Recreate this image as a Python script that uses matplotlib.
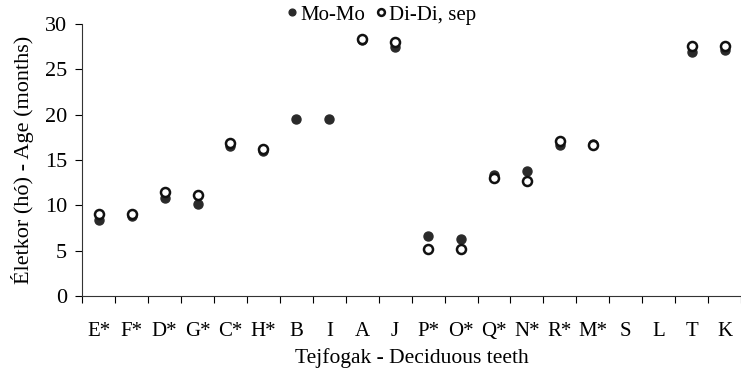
import matplotlib
matplotlib.use("Agg")
import matplotlib.pyplot as plt
import numpy as np

plt.rcParams['font.family'] = ['Liberation Serif', 'DejaVu Serif']

teeth = ['E*', 'F*', 'D*', 'G*', 'C*', 'H*', 'B', 'I', 'A', 'J',
         'P*', 'O*', 'Q*', 'N*', 'R*', 'M*', 'S', 'L', 'T', 'K']
mo_mo = [8.4, 8.8, 10.8, 10.2, 16.5, 16.0, 19.5, 19.5, 28.2, 27.5,
         6.6, 6.3, 13.4, 13.8, 16.7, 16.8, np.nan, np.nan, 26.9, 27.1]
di_di = [9.1, 9.0, 11.5, 11.1, 16.9, 16.2, np.nan, np.nan, 28.3, 28.0,
         5.2, 5.2, 13.0, 12.7, 17.1, 16.7, np.nan, np.nan, 27.6, 27.6]

fig = plt.figure(figsize=(7.41, 3.70), dpi=100)
ax = fig.add_axes([0.111, 0.2, 0.889, 0.735])

x = np.arange(len(teeth))
ax.plot(x, mo_mo, 'o', color='#2a2a2a', markersize=6.5, label='Mo-Mo', zorder=3)
ax.plot(x, di_di, 'o', markerfacecolor='white', markeredgecolor='#111111',
        markeredgewidth=1.8, markersize=6.5, label='Di-Di, sep', zorder=4)

ax.set_xlim(-0.5, len(teeth) - 0.5)
ax.set_ylim(0, 30)
ax.set_yticks(range(0, 31, 5))
ax.set_xticks(x)
ax.set_xticklabels(teeth)
ax.set_xticks(np.arange(-0.5, len(teeth)), minor=True)
ax.tick_params(axis='x', which='major', length=0, pad=19, labelsize=15)
ax.tick_params(axis='x', which='minor', length=5, direction='out', width=0.8)
ax.tick_params(axis='y', length=5, direction='out', width=0.8, labelsize=16, pad=6)

for s in ['top', 'right']:
    ax.spines[s].set_visible(False)
for s in ['left', 'bottom']:
    ax.spines[s].set_linewidth(0.8)
    ax.spines[s].set_color('#333333')

ax.set_xlabel('Tejfogak - Deciduous teeth', fontsize=15.5, labelpad=4.5)
ax.set_ylabel('Életkor (hó) - Age (months)', fontsize=16, labelpad=8)

ax.legend(loc='upper center', bbox_to_anchor=(0.452, 1.10), ncol=2, frameon=False,
          fontsize=15, handletextpad=0.0, columnspacing=0.35, markerscale=0.75,
          handlelength=0.8, borderaxespad=0)

fig.savefig('out.png', dpi=100)
